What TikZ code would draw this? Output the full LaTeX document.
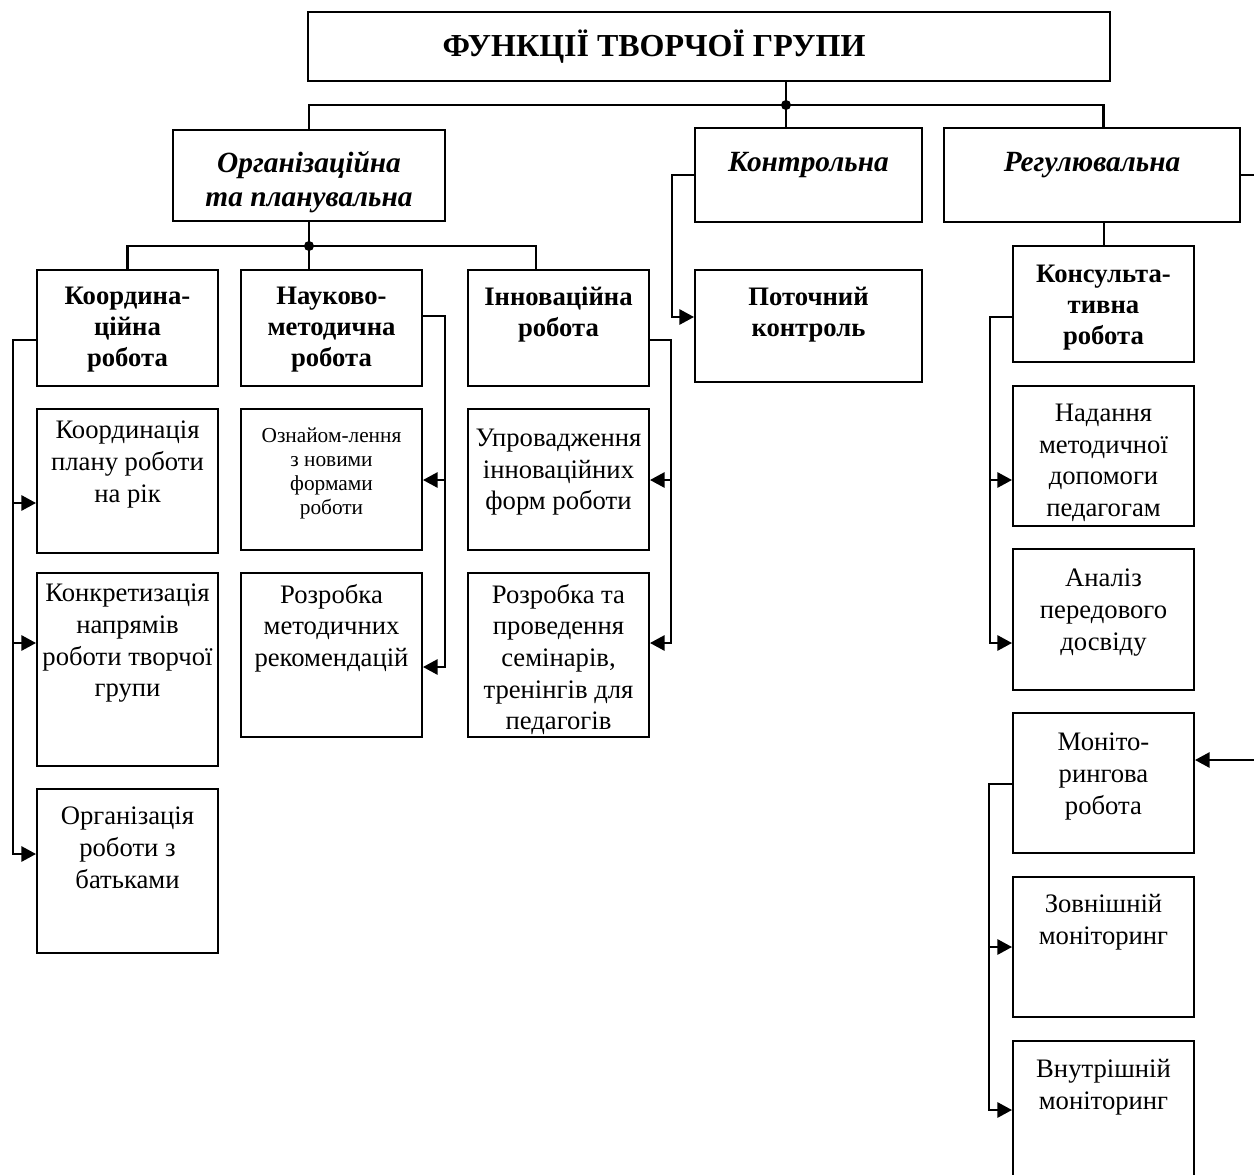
\documentclass[tikz,border=0pt]{standalone}
\usepackage{fontspec}
\setmainfont{Liberation Serif}
\usetikzlibrary{arrows.meta,positioning,calc}

\def\px{0.75pt}
\tikzset{
  cell/.style={draw, line width=1.5pt, inner sep=0pt},
  conn/.style={line width=1.5pt},
  bus/.style={line width=2pt},
  arr/.style={conn, -{Triangle[length=11pt,width=11.5pt]}},
  titletext/.style={font=\fontsize{24}{28}\selectfont\bfseries, inner sep=0pt},
  headtext/.style={font=\fontsize{22}{25.5}\selectfont\bfseries\itshape, align=center, anchor=north, inner sep=0pt},
  subtext/.style={font=\fontsize{20}{23}\selectfont\bfseries, align=center, anchor=north, inner sep=0pt},
  leaftext/.style={font=\fontsize{20}{23.7}\selectfont, align=center, anchor=north, inner sep=0pt},
  smalltext/.style={font=\fontsize{16}{18}\selectfont, align=center, anchor=north, inner sep=0pt}
}

\begin{document}
\begin{tikzpicture}[x=0.75pt,y=-0.75pt]

      \useasboundingbox (0,0) rectangle (1254,1175);
      \clip (0,0) rectangle (1254,1175);

      % the title
      \node[cell, minimum width={802*\px}, minimum height={69*\px}] (title) at (709,46.5) {};
      \node[titletext] (title-t) at (654,47) {ФУНКЦІЇ ТВОРЧОЇ ГРУПИ};

      % the three functions
      \foreach \nm/\xa/\ya/\xb/\yb/\tp/\txt in {
        org/173/130/445/221/151/{Організаційна\\та планувальна},
        kontr/695/128/922/222/152/{Контрольна},
        regul/944/128/1240/222/152/{Регулювальна}}
      {
        \node[cell, minimum width={(\xb-\xa)*\px}, minimum height={(\yb-\ya)*\px}] (\nm) at ({(\xa+\xb)/2},{(\ya+\yb)/2}) {};
        \node[headtext] (\nm-t) at ({(\xa+\xb)/2},\tp) {\txt};
      }

      % the kinds of work
      \foreach \nm/\xa/\ya/\xb/\yb/\tp/\txt in {
        koord/37/270/218/386/287/{Координа-\\ційна\\робота},
        naukovo/241/270/422/386/287/{Науково-\\методична\\робота},
        innov/468/270/649/386/287/{Інноваційна\\робота},
        potoch/695/270/922/382/287/{Поточний\\контроль},
        konsult/1013/246/1194/362/265/{Консульта-\\тивна\\робота}}
      {
        \node[cell, minimum width={(\xb-\xa)*\px}, minimum height={(\yb-\ya)*\px}] (\nm) at ({(\xa+\xb)/2},{(\ya+\yb)/2}) {};
        \node[subtext] (\nm-t) at ({(\xa+\xb)/2},\tp) {\txt};
      }

      % the tasks
      \foreach \nm/\xa/\ya/\xb/\yb/\tp/\txt in {
        koordPlan/37/409/218/553/421/{Координація\\плану роботи\\на рік},
        konkret/37/573/218/766/584/{Конкретизація\\напрямів\\роботи творчої\\групи},
        batky/37/789/218/953/807/{Організація\\роботи з\\батьками},
        rozrobMet/241/573/422/737/584/{Розробка\\методичних\\рекомендацій},
        uprov/468/409/649/550/429/{Упровадження\\інноваційних\\форм роботи},
        rozrobSem/468/573/649/737/584/{Розробка та\\проведення\\семінарів,\\тренінгів для\\педагогів},
        nadannia/1013/386/1194/526/404/{Надання\\методичної\\допомоги\\педагогам},
        analiz/1013/549/1194/690/569/{Аналіз\\передового\\досвіду},
        monitor/1013/713/1194/853/733/{Моніто-\\рингова\\робота},
        zovn/1013/877/1194/1017/894/{Зовнішній\\моніторинг},
        vnutr/1013/1041/1194/1200/1059/{Внутрішній\\моніторинг}}
      {
        \node[cell, minimum width={(\xb-\xa)*\px}, minimum height={(\yb-\ya)*\px}] (\nm) at ({(\xa+\xb)/2},{(\ya+\yb)/2}) {};
        \node[leaftext] (\nm-t) at ({(\xa+\xb)/2},\tp) {\txt};
      }
      \node[cell, minimum width={181*\px}, minimum height={141*\px}] (oznaiom) at (331.5,479.5) {};
      \node[smalltext] (oznaiom-t) at (331.5,428) {Ознайом-лення\\з новими\\формами\\роботи};

      % draw the buses
      \coordinate (topdot) at (786,105);
      \coordinate (orgdot) at (309,246);
      \draw[bus] (org.north) |- (topdot) -| (konsult.north |- regul.north);
      \draw[conn] (title.south -| topdot) -- (kontr.north -| topdot);
      \fill (topdot) circle (5);
      \draw[bus] (koord.north) |- (orgdot) -| ([xshift={-22.5*\px}]innov.north);
      \draw[conn] (org.south) -- (org.south |- naukovo.north);
      \fill (orgdot) circle (5);
      \draw[conn] (regul.south -| konsult.north) -- (konsult.north);

      % draw the brackets with arrows
      \draw[arr] (kontr.west) -| (672,317) -- (potoch.west |- 0,317);
      \foreach \t/\yy in {koordPlan/503, konkret/643, batky/854}
        \draw[arr] (koord.west |- 0,340) -| (13,\yy) -- (\t.west |- 0,\yy);
      \foreach \t/\yy in {oznaiom/480, rozrobMet/667}
        \draw[arr] (naukovo.east |- 0,316) -| (445,\yy) -- (\t.east |- 0,\yy);
      \foreach \t/\yy in {uprov/480, rozrobSem/643}
        \draw[arr] (innov.east |- 0,340) -| (671,\yy) -- (\t.east |- 0,\yy);
      \foreach \t/\yy in {nadannia/480, analiz/643}
        \draw[arr] (konsult.west |- 0,317) -| (990,\yy) -- (\t.west |- 0,\yy);
      \foreach \t/\yy in {zovn/947, vnutr/1110}
        \draw[arr] (monitor.west |- 0,784) -| (989,\yy) -- (\t.west |- 0,\yy);
      \draw[arr] (regul.east) -| (1262,760) -- (monitor.east |- 0,760);

\end{tikzpicture}
\end{document}
